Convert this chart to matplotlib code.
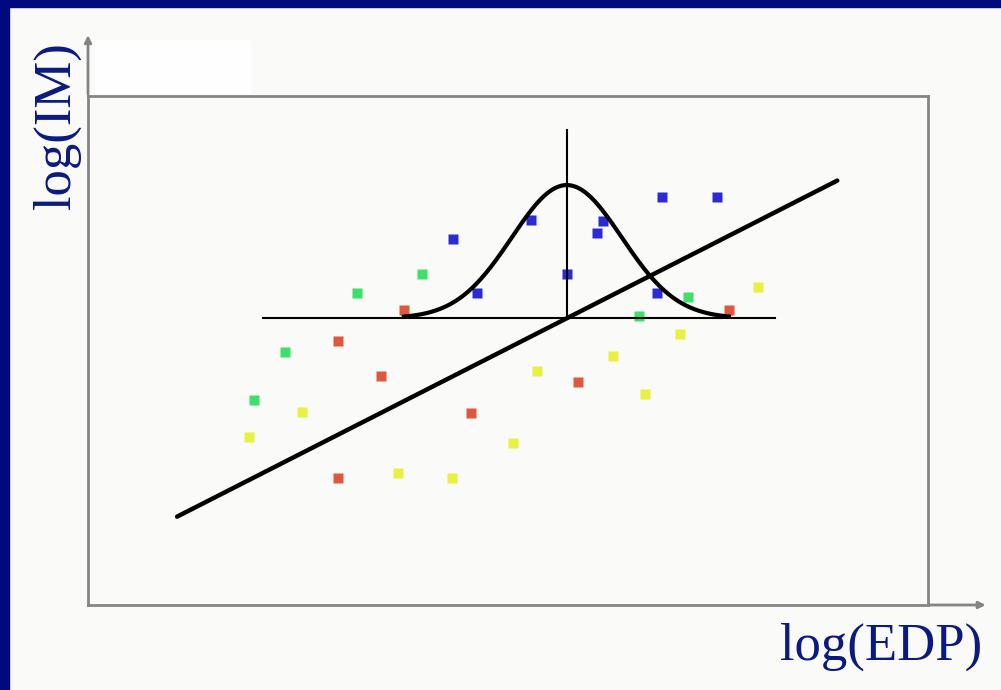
import numpy as np
import matplotlib.pyplot as plt
from matplotlib.patches import Rectangle

# scatter points (x = log(EDP), y = log(IM), box is 0..10 x 0..6)
blue_x = [4.35, 4.63, 5.27, 5.70, 6.06, 6.13, 6.83, 7.49, 6.77]
blue_y = [4.32, 3.68, 4.54, 3.90, 4.39, 4.53, 4.81, 4.81, 3.68]
green_x = [3.20, 3.98, 2.35, 1.98, 6.56, 7.14]
green_y = [3.68, 3.90, 2.98, 2.42, 3.41, 3.63]
red_x = [3.76, 2.98, 3.49, 4.56, 5.83, 2.98, 7.63]
red_y = [3.48, 3.11, 2.70, 2.26, 2.63, 1.50, 3.48]
yellow_x = [1.92, 2.55, 3.69, 4.33, 5.06, 5.35, 6.25, 6.63, 7.05, 7.98]
yellow_y = [1.98, 2.28, 1.56, 1.50, 1.91, 2.76, 2.93, 2.49, 3.20, 3.75]

# fitted line and the distribution sketched at one EDP level
center_x, center_y = 5.70, 3.38
slope = 0.504
fit_x = [1.06, 8.92]
bell_height, bell_sigma = 1.57, 0.655
bell_from, bell_to = 3.76, 7.63
hline_x = [2.08, 8.18]
vline_top = 5.60

fig = plt.figure(figsize=(10.01, 6.9), dpi=100, facecolor="#fafaf9")

# dark blue slide frame (top and left)
fig.patches.append(Rectangle((0, 1 - 7 / 690), 1, 7 / 690, transform=fig.transFigure,
                             color="#000a7e", zorder=0))
fig.patches.append(Rectangle((0, 0), 9 / 1001, 1, transform=fig.transFigure,
                             color="#000a7e", zorder=0))
fig.patches.append(Rectangle((95 / 1001, 1 - 93 / 690), 155 / 1001, 53 / 690,
                             transform=fig.transFigure, color="#fefefe", zorder=0))

ax = fig.add_axes([88 / 1001, 85 / 690, 840 / 1001, 509 / 690])
ax.set_facecolor("none")
ax.set_xlim(0, 10)
ax.set_ylim(0, 6)
ax.set_xticks([])
ax.set_yticks([])
for s in ax.spines.values():
    s.set_color("#858585")
    s.set_linewidth(2)

# axis arrows past the box
ax.annotate("", xy=(0, 6.75), xytext=(0, 5.99), annotation_clip=False,
            arrowprops=dict(arrowstyle="-|>", color="#858585", lw=2, mutation_scale=10))
ax.annotate("", xy=(10.72, 0), xytext=(9.99, 0), annotation_clip=False,
            arrowprops=dict(arrowstyle="-|>", color="#858585", lw=2, mutation_scale=10))

ms = 6.5
ax.plot(blue_x, blue_y, "s", color="#2b2bd6", ms=ms, mec="none", zorder=2)
ax.plot(green_x, green_y, "s", color="#3ee06a", ms=ms, mec="none", zorder=2)
ax.plot(red_x, red_y, "s", color="#e0583c", ms=ms, mec="none", zorder=2)
ax.plot(yellow_x, yellow_y, "s", color="#e8f040", ms=ms, mec="none", zorder=2)

fx = np.array(fit_x)
ax.plot(fx, center_y + slope * (fx - center_x), color="black", lw=3.2, zorder=3,
        solid_capstyle="round")

ax.plot(hline_x, [center_y, center_y], color="black", lw=1.5, zorder=3)
ax.plot([center_x, center_x], [center_y, vline_top], color="black", lw=1.5, zorder=3)

bx = np.linspace(bell_from, bell_to, 200)
by = center_y + bell_height * np.exp(-0.5 * ((bx - center_x) / bell_sigma) ** 2)
ax.plot(bx, by, color="black", lw=3, zorder=4)

fig.text(780 / 1001, 1 - 660 / 690, "log(EDP)", family="Liberation Serif", fontsize=38,
         color="#0a1a80", ha="left", va="baseline")
fig.text(57 / 1001, 1 - 126 / 690, "log(IM)", family="Liberation Serif", fontsize=38,
         color="#0a1a80", rotation=90, ha="center", va="center")

fig.savefig("out.png", dpi=100, facecolor=fig.get_facecolor())
